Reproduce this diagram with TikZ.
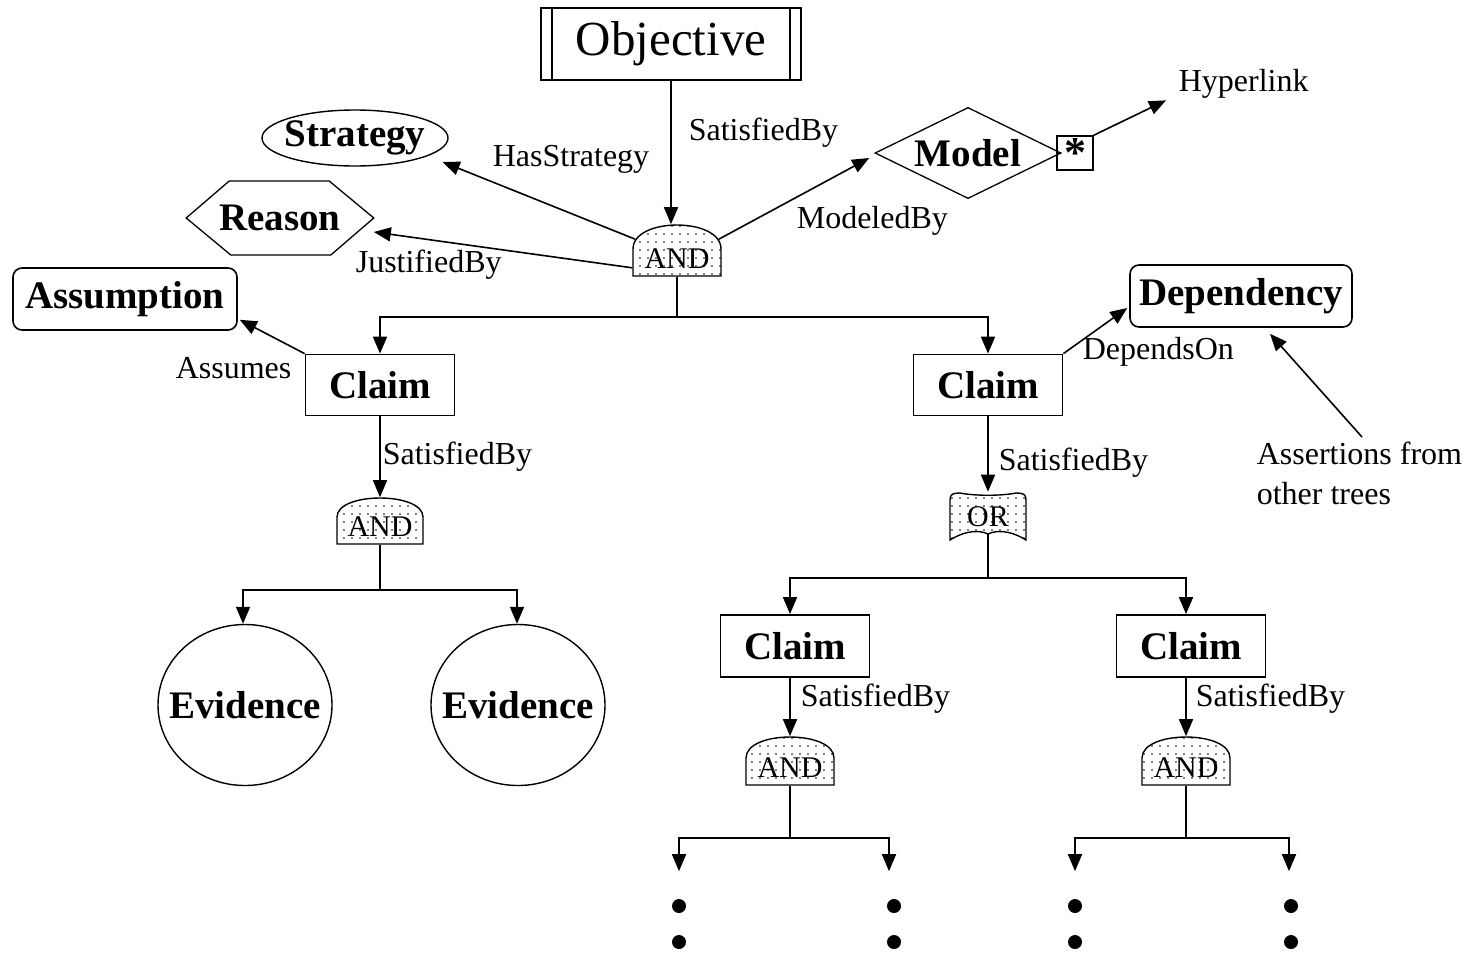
\documentclass[tikz,border=0pt]{standalone}
\usepackage{fontspec}
\setmainfont{Liberation Serif}
\usetikzlibrary{arrows.meta,calc,patterns.meta,shapes.geometric}
\tikzdeclarepattern{
  name=gdots,
  type=uncolored,
  bounding box={(-1pt,-1pt) and (1pt,1pt)},
  tile size={(8pt,8pt)},
  code={\pgfpathcircle{\pgfpointorigin}{0.9pt}\pgfusepath{fill}}
}
\newcommand\andgate[5]{% name, cx, top, bottom, width
  \pgfmathsetmacro\gxL{#2-#5/2}\pgfmathsetmacro\gxR{#2+#5/2}
  \pgfmathsetmacro\gxS{#4-27}\pgfmathsetmacro\gxC{(8*#3-2*\gxS)/6}
  \pgfmathsetmacro\gxM{(#3+#4)/2}\pgfmathsetmacro\gxH{#4-#3}
  \path[gate] (\gxL,#4) -- (\gxL,\gxS) .. controls (\gxL,\gxC) and (\gxR,\gxC) .. (\gxR,\gxS) -- (\gxR,#4) -- cycle;
  \node[gatebox, minimum width=#5, minimum height=\gxH] (#1) at (#2,\gxM) {};
  \node[gatetext] (#1t) at (#2,#4-17) {AND};
}
\begin{document}
\begin{tikzpicture}[x=1pt,y=-1pt,
  line width=1.6pt,
  arr/.style={-{Triangle[length=17pt,width=14pt]}},
  lbl/.style={font=\fontsize{32}{40}\selectfont, inner sep=0pt},
  big/.style={font=\fontsize{39}{40}\selectfont\bfseries, inner sep=0pt},
  box/.style={draw, rectangle, big, line width=1.8pt},
  rbox/.style={draw, rectangle, rounded corners=9pt, big, line width=1.6pt},
  gate/.style={draw, line width=1.4pt, preaction={fill=white}, pattern=gdots, pattern color=black},
  gatebox/.style={inner sep=0pt, draw=none},
  gatetext/.style={font=\fontsize{30}{30}\selectfont, inner sep=0pt},
  dotn/.style={circle, fill=black, inner sep=0pt, minimum size=14pt}
]
\useasboundingbox (0,0) rectangle (1474,954);

% Objective
\node[draw, line width=2pt, minimum width=260, minimum height=72, inner sep=0pt,
      font=\fontsize{49}{50}\selectfont] (obj) at (671,44) {Objective};
\draw[line width=2pt] ([xshift=12pt]obj.north west) -- ([xshift=12pt]obj.south west);
\draw[line width=2pt] ([xshift=-12pt]obj.north east) -- ([xshift=-12pt]obj.south east);

% top AND gate
\andgate{g1}{677}{225}{276}{88}

% Strategy, Reason, Model
\node[draw, ellipse, big, minimum width=186, minimum height=56, inner xsep=-8pt, inner ysep=0pt, line width=1.4pt] (strat) at (355,138) {Strategy};
\node[big, minimum width=186, minimum height=74] (reason) at (280,218) {Reason};
\draw[line width=1.3pt] (reason.west) -- ++(43,-37) -- ++(100,0) -- (reason.east) -- ++(-43,37) -- ++(-100,0) -- cycle;
\node[big, minimum width=184, minimum height=89] (model) at (968,153) {Model};
\draw[line width=1.3pt] (model.west) -- (model.north) -- (model.east) -- (model.south) -- cycle;
\node[draw, line width=1.6pt, minimum width=36, minimum height=34, inner sep=0pt,
      font=\fontsize{44}{44}\selectfont\bfseries] (star) at (1075,153) {\raisebox{-0.3em}{*}};
\draw[line width=1.3pt] (model.east) -- (star.west);
\node[lbl, anchor=west] (hyper) at (1178,84) {Hyperlink};
\draw[arr] (star.north east) -- ($(hyper.south west)+(-12,1)$);

% top connectors
\draw[arr] (obj.south) -- (obj.south |- g1.north);
\node[lbl, anchor=west] (sat0) at (688,133) {SatisfiedBy};
\draw[arr] ($(g1.north west)+(3,15)$) -- ($(strat.east)+(-6,24)$);
\node[lbl, anchor=west] (hasstr) at (492,159) {HasStrategy};
\draw[arr] ($(g1.south west)+(0,-9)$) -- ($(reason.east)+(0,14)$);
\node[lbl, anchor=west] (just) at (355,265) {JustifiedBy};
\draw[arr] ($(g1.north east)+(-3,15)$) -- ($(model.west)+(-6,5)$);
\node[lbl, anchor=west] (modl) at (796,221) {ModeledBy};

% level-1 claims
\node[box, minimum width=149, minimum height=61] (c1) at (380,385) {Claim};
\node[box, minimum width=149, minimum height=61] (c2) at (988,385) {Claim};
\coordinate (j1) at (677,317);
\draw (g1.south) -- (j1);
\draw[arr] (j1) -| (c1.north);
\draw[arr] (j1) -| (c2.north);

% Assumption / Dependency
\node[rbox, minimum width=224, minimum height=62] (assum) at (125,299) {Assumption};
\draw[arr] (c1.north west) -- ($(assum.south east)+(2,-11)$);
\node[lbl, anchor=west] (asm) at (175,368) {Assumes};
\node[rbox, minimum width=222, minimum height=62] (dep) at (1241,296) {Dependency};
\draw[arr] (c2.north east) -- ($(dep.west)+(-2,12)$);
\node[lbl, anchor=west] (depon) at (1082,352) {DependsOn};
\node[lbl, anchor=north west, align=left] (assert) at (1256,441) {Assertions from\\other trees};
\draw[arr] ($(assert.north west)+(106,-4)$) -- ($(dep.south)+(29,6)$);

% left subtree
\andgate{g2}{380}{498}{544}{86}
\draw[arr] (c1.south) -- (g2.north);
\node[lbl, anchor=west] (sat1) at (382,457) {SatisfiedBy};
\node[draw, ellipse, big, minimum width=174, minimum height=161, line width=1.4pt, inner sep=0pt, inner xsep=-24pt] (ev1) at (245,705) {Evidence};
\node[draw, ellipse, big, minimum width=174, minimum height=161, line width=1.4pt, inner sep=0pt, inner xsep=-24pt] (ev2) at (518,705) {Evidence};
\coordinate (j2) at (380,590);
\draw (g2.south) -- (j2);
\draw[arr] (j2) -| ([xshift=-2pt]ev1.north);
\draw[arr] (j2) -| ([xshift=-1pt]ev2.north);

% right subtree: OR gate
\node[gatebox, minimum width=76, minimum height=47] (org) at (988,516) {};
\path[gate] (950,540) -- (950,500) .. controls (950,494) and (953,493) .. (960,493)
  .. controls (975,496) and (1001,496) .. (1016,493)
  .. controls (1023,493) and (1026,494) .. (1026,500) -- (1026,540)
  .. controls (1010,530) and (996,530) .. (988,534)
  .. controls (980,530) and (966,530) .. (950,540) -- cycle;
\node[gatetext] (orgt) at (988,517) {OR};
\draw[arr] (c2.south) -- (org.north);
\node[lbl, anchor=west] (sat2) at (998,463) {SatisfiedBy};
\node[box, minimum width=149, minimum height=62] (c3) at (795,646) {Claim};
\node[box, minimum width=149, minimum height=62] (c4) at (1191,646) {Claim};
\coordinate (j3) at (988,578);
\draw (988,534) -- (j3);
\draw[arr] (j3) -| ([xshift=-5pt]c3.north);
\draw[arr] (j3) -| ([xshift=-5pt]c4.north);

\andgate{g3}{790}{737}{785}{88}
\andgate{g4}{1186}{737}{785}{88}
\draw[arr] (c3.south -| g3.north) -- (g3.north);
\draw[arr] (c4.south -| g4.north) -- (g4.north);
\node[lbl, anchor=west] (sat3) at (800,699) {SatisfiedBy};
\node[lbl, anchor=west] (sat4) at (1195,699) {SatisfiedBy};

% dots
\node[dotn] (d1a) at (679,906) {};
\node[dotn] (d1b) at (679,942) {};
\node[dotn] (d2a) at (894,906) {};
\node[dotn] (d2b) at (894,942) {};
\node[dotn] (d3a) at (1075,906) {};
\node[dotn] (d3b) at (1075,942) {};
\node[dotn] (d4a) at (1291,906) {};
\node[dotn] (d4b) at (1291,942) {};
\coordinate (j4) at (790,838);
\coordinate (j5) at (1186,838);
\draw (g3.south) -- (j4);
\draw (g4.south) -- (j5);
\draw[arr] (j4) -| ([yshift=27pt]d1a.north);
\draw[arr] (j4) -| ([xshift=-5pt,yshift=27pt]d2a.north);
\draw[arr] (j5) -| ([yshift=27pt]d3a.north);
\draw[arr] (j5) -| ([xshift=-2pt,yshift=27pt]d4a.north);
\end{tikzpicture}
\end{document}
